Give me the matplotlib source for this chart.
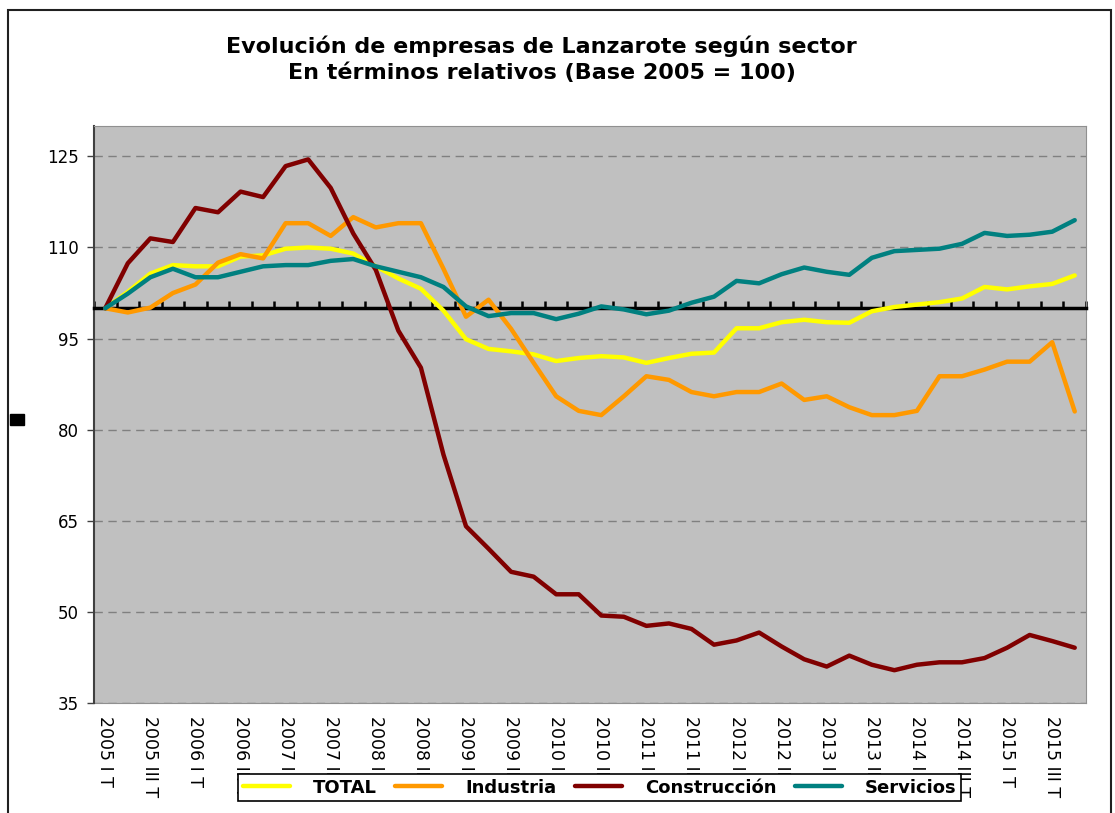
import matplotlib.pyplot as plt
from matplotlib.patches import Rectangle

# ── data ──────────────────────────────────────────────────
quarters = list(range(44))  # 2005 I T ... 2015 IV T

total = [100, 102.7, 105.7, 107.1, 106.9, 106.9, 108.5, 108.7, 109.8, 110.0,
         109.8, 109.0, 106.9, 104.9, 103.2, 99.6, 94.9, 93.3, 92.9, 92.4,
         91.3, 91.8, 92.1, 91.9, 91.0, 91.8, 92.5, 92.7, 96.7, 96.7,
         97.7, 98.1, 97.7, 97.6, 99.5, 100.2, 100.6, 101.0, 101.6, 103.5,
         103.1, 103.6, 104.0, 105.4]
industria = [100, 99.3, 100.1, 102.5, 103.9, 107.5, 108.9, 108.2, 114.0, 114.0,
             111.9, 115.0, 113.3, 114.0, 114.0, 106.5, 98.6, 101.4, 96.6, 91.0,
             85.5, 83.1, 82.4, 85.5, 88.8, 88.2, 86.2, 85.5, 86.2, 86.2,
             87.6, 84.9, 85.5, 83.7, 82.4, 82.4, 83.1, 88.8, 88.8, 89.9,
             91.2, 91.2, 94.4, 83.0]
construccion = [100, 107.4, 111.5, 110.9, 116.5, 115.8, 119.2, 118.3, 123.4, 124.5,
                119.8, 112.3, 106.3, 96.3, 90.2, 75.9, 64.1, 60.4, 56.6, 55.8,
                52.9, 52.9, 49.4, 49.2, 47.7, 48.1, 47.2, 44.6, 45.3, 46.6,
                44.3, 42.2, 41.0, 42.8, 41.3, 40.4, 41.3, 41.7, 41.7, 42.4,
                44.1, 46.2, 45.2, 44.1]
servicios = [100, 102.4, 105.1, 106.5, 105.1, 105.1, 106.0, 106.9, 107.1, 107.1,
             107.8, 108.1, 106.9, 106.0, 105.1, 103.5, 100.3, 98.7, 99.2, 99.2,
             98.2, 99.1, 100.3, 99.8, 99.0, 99.6, 100.9, 101.9, 104.5, 104.1,
             105.6, 106.7, 106.0, 105.5, 108.3, 109.4, 109.6, 109.8, 110.6, 112.4,
             111.9, 112.1, 112.6, 114.5]

tick_labels = ["2005 I T", "2005 III T", "2006 I T", "2006 III T", "2007 I T",
               "2007 III T", "2008 I T", "2008 III T", "2009 I T", "2009 III T",
               "2010 I T", "2010 III T", "2011 I T", "2011 III T", "2012 I T",
               "2012 III T", "2013 I T", "2013 III T", "2014 I T", "2014 III T",
               "2015 I T", "2015 III T"]
y_ticks = [35, 50, 65, 80, 95, 110, 125]

series = [("TOTAL", total, "#FFFF00"),
          ("Industria", industria, "#FF9900"),
          ("Construcción", construccion, "#800000"),
          ("Servicios", servicios, "#008080")]

# ── figure ────────────────────────────────────────────────
fig = plt.figure(figsize=(11.15, 8.13), dpi=100)
ax = fig.add_axes([0.0843, 0.1353, 0.8897, 0.7097])
ax.set_facecolor("#C0C0C0")

for name, vals, col in series:
    ax.plot(quarters, vals, color=col, lw=3.2, label=name, zorder=3,
            solid_joinstyle="round", solid_capstyle="round")

ax.set_xlim(-0.5, 43.5)
ax.set_ylim(35, 130)
ax.set_yticks(y_ticks)
ax.tick_params(axis="y", labelsize=12, length=5, width=1, color="#404040", pad=6)
ax.yaxis.grid(True, color="#808080", ls=(0, (6, 4)), lw=1)
ax.set_axisbelow(True)

for side in ["top", "right"]:
    ax.spines[side].set_color("#909090")
ax.spines["left"].set_color("#404040")
ax.spines["left"].set_linewidth(1.5)

# category axis crosses at 100
ax.spines["bottom"].set_position(("data", 100))
ax.spines["bottom"].set_color("black")
ax.spines["bottom"].set_linewidth(2.5)
ax.set_xticks([q - 0.5 for q in quarters] + [43.5])
ax.tick_params(axis="x", direction="in", length=5, width=1.8, color="black",
               labelbottom=False)

# labels at the bottom of the plot area
sec = ax.secondary_xaxis("bottom")
sec.set_xticks(quarters[::2], tick_labels, rotation=-90, fontsize=12.5)
sec.tick_params(length=0, pad=9)
sec.spines["bottom"].set_color("#909090")

fig.text(0.4857, 0.927, "Evolución de empresas de Lanzarote según sector\n"
         "En términos relativos (Base 2005 = 100)",
         ha="center", va="center", fontsize=16, fontweight="bold", linespacing=1.3)

leg = fig.legend(loc="center", bbox_to_anchor=(0.538, 0.031), ncol=4,
                 prop={"weight": "bold", "size": 13}, handlelength=2.6,
                 handletextpad=1.3, columnspacing=1.0, fancybox=False,
                 framealpha=1, edgecolor="black", borderpad=0.25)
leg.get_frame().set_linewidth(1.2)

# outer chart border and stray marker on the left
fig.patches.append(Rectangle((8 / 1115, -0.05), 1103 / 1115, 1 - 10 / 813 + 0.05,
                             transform=fig.transFigure, fill=False,
                             edgecolor="#202020", lw=1.5))
fig.patches.append(Rectangle((10 / 1115, 1 - 425 / 813), 14 / 1115, 11 / 813,
                             transform=fig.transFigure, color="black"))

fig.savefig("out.png", dpi=100)
